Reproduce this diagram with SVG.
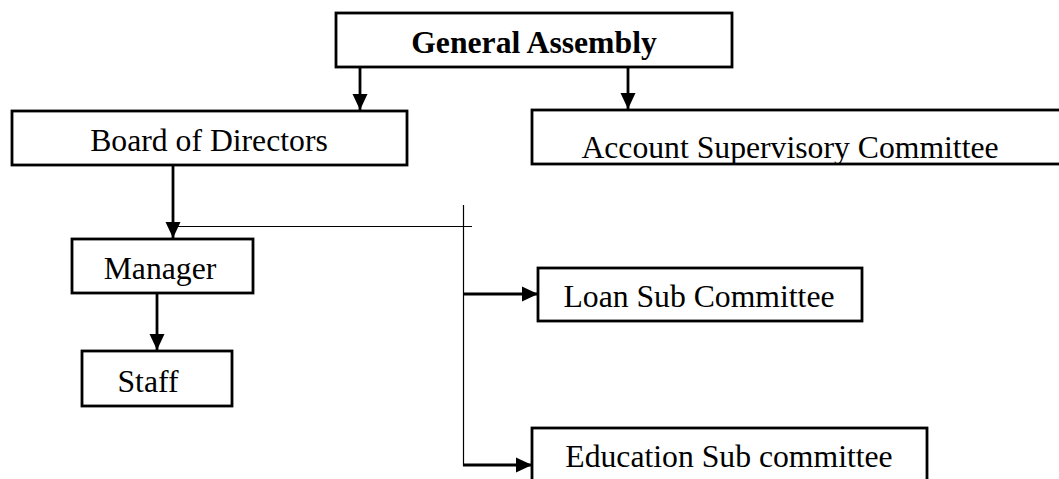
<svg xmlns="http://www.w3.org/2000/svg" width="1059" height="479" viewBox="0 0 1059 479">
<style>
.box{fill:#fff;stroke:#000;stroke-width:2.8}
.t{font-family:"Liberation Serif","Times New Roman",serif;font-size:31.7px;fill:#000;text-anchor:middle}
.b{font-weight:bold}
.thick{stroke:#000;stroke-width:2.8;fill:none}
.thin{stroke:#000;stroke-width:1.2;fill:none}
</style>
<defs>
<marker id="ah" markerUnits="userSpaceOnUse" markerWidth="16" markerHeight="16" viewBox="0 0 16 16" refX="16" refY="8" orient="auto">
<path d="M0,0.5 L16,8 L0,15.5 Z" fill="#000"/>
</marker>
</defs>
<rect width="1059" height="479" fill="#fff"/>
<g id="connectors">
<line class="thick" x1="360" y1="67" x2="360" y2="110" marker-end="url(#ah)"/>
<line class="thick" x1="628" y1="67" x2="628" y2="109" marker-end="url(#ah)"/>
<line class="thick" x1="173" y1="165" x2="173" y2="238" marker-end="url(#ah)"/>
<line class="thin" x1="173" y1="226.5" x2="472" y2="226.5"/>
<line class="thin" x1="463.5" y1="205" x2="463.5" y2="466"/>
<line class="thick" x1="463" y1="294" x2="538" y2="294" marker-end="url(#ah)"/>
<line class="thick" x1="463" y1="465" x2="532" y2="465" marker-end="url(#ah)"/>
<line class="thick" x1="157" y1="293" x2="157" y2="350" marker-end="url(#ah)"/>
</g>
<g id="general-assembly">
<rect class="box" x="336" y="13" width="396" height="54"/>
<text class="t b" x="534" y="53">General Assembly</text>
</g>
<g id="board-of-directors">
<rect class="box" x="12" y="111" width="395" height="54"/>
<text class="t" x="209" y="151">Board of Directors</text>
</g>
<g id="account-supervisory-committee">
<rect class="box" x="532" y="110" width="540" height="54"/>
<text class="t" x="790" y="158">Account Supervisory Committee</text>
</g>
<g id="manager">
<rect class="box" x="72" y="239" width="181" height="54"/>
<text class="t" x="160" y="279">Manager</text>
</g>
<g id="staff">
<rect class="box" x="82" y="351" width="150" height="55"/>
<text class="t" x="148" y="392">Staff</text>
</g>
<g id="loan-sub-committee">
<rect class="box" x="538" y="268" width="324" height="53"/>
<text class="t" x="699" y="307">Loan Sub Committee</text>
</g>
<g id="education-sub-committee">
<rect class="box" x="532" y="428" width="395" height="70"/>
<text class="t" x="729" y="467">Education Sub committee</text>
</g>
</svg>
